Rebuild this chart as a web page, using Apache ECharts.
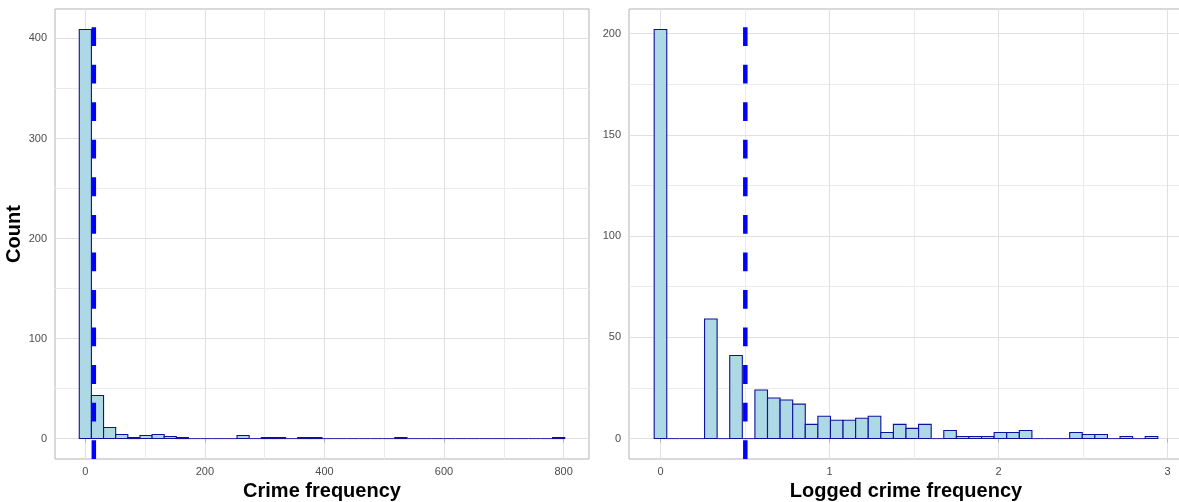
<!DOCTYPE html>
<html>
<head>
<meta charset="utf-8">
<script src="https://cdn.jsdelivr.net/npm/echarts@6/dist/echarts.min.js"></script>
<style>
html,body{margin:0;padding:0;background:#fff;}
#chart{width:1179px;height:502px;}
</style>
</head>
<body>
<div id="chart"></div>
<script>
// ---- data ----
const leftBinWidth = 20.3;
const leftCounts = [409,43,11,4,1,3,4,2,1,0,0,0,0,3,0,1,1,0,1,1,0,0,0,0,0,0,1,0,0,0,0,0,0,0,0,0,0,0,0,1];
const leftMean = 14.2;
const rightBinWidth = 0.0745;
const rightCounts = [202,0,0,0,59,0,41,0,24,20,19,17,7,11,9,9,10,11,3,7,5,7,0,4,1,1,1,3,3,4,0,0,0,3,2,2,0,1,0,1];
const rightMean = 0.502;

const leftXTicks = [0,200,400,600,800];
const leftXMinor = [100,300,500,700];
const leftYTicks = [0,100,200,300,400];
const leftYMinor = [50,150,250,350];
const rightXTicks = [0,1,2,3];
const rightXMinor = [0.5,1.5,2.5];
const rightYTicks = [0,50,100,150,200];
const rightYMinor = [25,75,125,175];

const xTitleLeft = 'Crime frequency';
const xTitleRight = 'Logged crime frequency';
const yTitle = 'Count';

// ---- styling ----
const FONT = '"Liberation Sans", Arial, sans-serif';
const GRID_MAJOR = '#E0E0E0';
const GRID_MINOR = '#EBEBEB';
const BORDER = '#B3B3B3';

function xRange(bw, n){ return [-bw/2 - 0.05*n*bw, (n-1)*bw + bw/2 + 0.05*n*bw]; }
function yRange(counts){ const m = Math.max.apply(null, counts); return [-0.05*m, 1.05*m]; }
function makeBins(counts, bw){ return counts.map((c,i)=>[i*bw, c]); }

function histSeries(idx, counts, bw){
  return {
    type:'custom', xAxisIndex:idx, yAxisIndex:idx, z:3, silent:true,
    data: makeBins(counts, bw),
    renderItem: function(params, api){
      const c = api.value(0), n = api.value(1);
      const p0 = api.coord([c - bw/2, 0]);
      const p1 = api.coord([c + bw/2, n]);
      if (n === 0){
        return {type:'line', shape:{x1:p0[0], y1:p0[1], x2:p1[0], y2:p0[1]}, style:{stroke:'#3434B0', lineWidth:1.1}};
      }
      return {type:'rect', shape:{x:p0[0], y:p1[1], width:p1[0]-p0[0], height:p0[1]-p1[1]},
        style:{fill:'#ADD8E6', stroke:'#10109C', lineWidth:1.1}};
    }
  };
}

function gridSeries(idx, xMaj, xMin, yMaj, yMin){
  const d = [];
  xMin.forEach(v=>d.push({xAxis:v, lineStyle:{color:GRID_MINOR, width:1}}));
  yMin.forEach(v=>d.push({yAxis:v, lineStyle:{color:GRID_MINOR, width:1}}));
  xMaj.forEach(v=>d.push({xAxis:v, lineStyle:{color:GRID_MAJOR, width:1}}));
  yMaj.forEach(v=>d.push({yAxis:v, lineStyle:{color:GRID_MAJOR, width:1}}));
  return {
    type:'line', xAxisIndex:idx, yAxisIndex:idx, data:[], z:0, silent:true,
    markLine:{silent:true, z:0, symbol:['none','none'], animation:false, label:{show:false},
      lineStyle:{type:'solid'}, data:d}
  };
}

function meanSeries(idx, v, yr){
  return {
    type:'custom', xAxisIndex:idx, yAxisIndex:idx, z:6, silent:true,
    data:[[v]],
    renderItem: function(params, api){
      const a = api.coord([api.value(0), yr[0]]);
      const b = api.coord([api.value(0), yr[1]]);
      return {type:'line', shape:{x1:a[0], y1:a[1], x2:b[0], y2:b[1]},
        style:{stroke:'#0000FF', lineWidth:4.5, lineDash:[18.8,18.75], lineDashOffset:0, lineCap:'butt'}};
    }
  };
}

const lx = xRange(leftBinWidth, leftCounts.length);
const rx = xRange(rightBinWidth, rightCounts.length);
const ly = yRange(leftCounts);
const ry = yRange(rightCounts);

function xAxis(idx, range, ticks, name){
  return {
    type:'value', gridIndex:idx, min:range[0], max:range[1],
    axisLine:{show:false}, splitLine:{show:false},
    axisTick:{show:true, customValues:ticks, length:4, lineStyle:{color:BORDER}},
    axisLabel:{customValues:ticks, margin:7, color:'#4D4D4D', fontSize:11, fontFamily:FONT},
    name:name, nameLocation:'middle', nameGap:22,
    nameTextStyle:{fontSize:20, fontWeight:'bold', color:'#000', fontFamily:FONT}
  };
}
function yAxis(idx, range, ticks, name){
  return {
    type:'value', gridIndex:idx, min:range[0], max:range[1],
    axisLine:{show:false}, splitLine:{show:false},
    axisTick:{show:true, customValues:ticks, length:4, lineStyle:{color:BORDER}},
    axisLabel:{customValues:ticks, margin:8, color:'#4D4D4D', fontSize:11, fontFamily:FONT},
    name:name, nameLocation:'middle', nameGap:23,
    nameTextStyle:{fontSize:20, fontWeight:'bold', color:'#000', fontFamily:FONT}
  };
}

const chart = echarts.init(document.getElementById('chart'), null, {renderer:'canvas'});
chart.setOption({
  animation:false,
  backgroundColor:'#fff',
  grid:[
    {left:55, top:9, width:534, height:450, show:true, borderColor:BORDER, borderWidth:1, backgroundColor:'transparent', outerBoundsMode:'none', containLabel:false},
    {left:629, top:9, width:554, height:450, show:true, borderColor:BORDER, borderWidth:1, backgroundColor:'transparent', outerBoundsMode:'none', containLabel:false}
  ],
  xAxis:[ xAxis(0, lx, leftXTicks, xTitleLeft), xAxis(1, rx, rightXTicks, xTitleRight) ],
  yAxis:[ yAxis(0, ly, leftYTicks, yTitle), yAxis(1, ry, rightYTicks, '') ],
  series:[
    gridSeries(0, leftXTicks, leftXMinor, leftYTicks, leftYMinor),
    gridSeries(1, rightXTicks, rightXMinor, rightYTicks, rightYMinor),
    histSeries(0, leftCounts, leftBinWidth),
    histSeries(1, rightCounts, rightBinWidth),
    meanSeries(0, leftMean, ly),
    meanSeries(1, rightMean, ry)
  ]
});
</script>
</body>
</html>
